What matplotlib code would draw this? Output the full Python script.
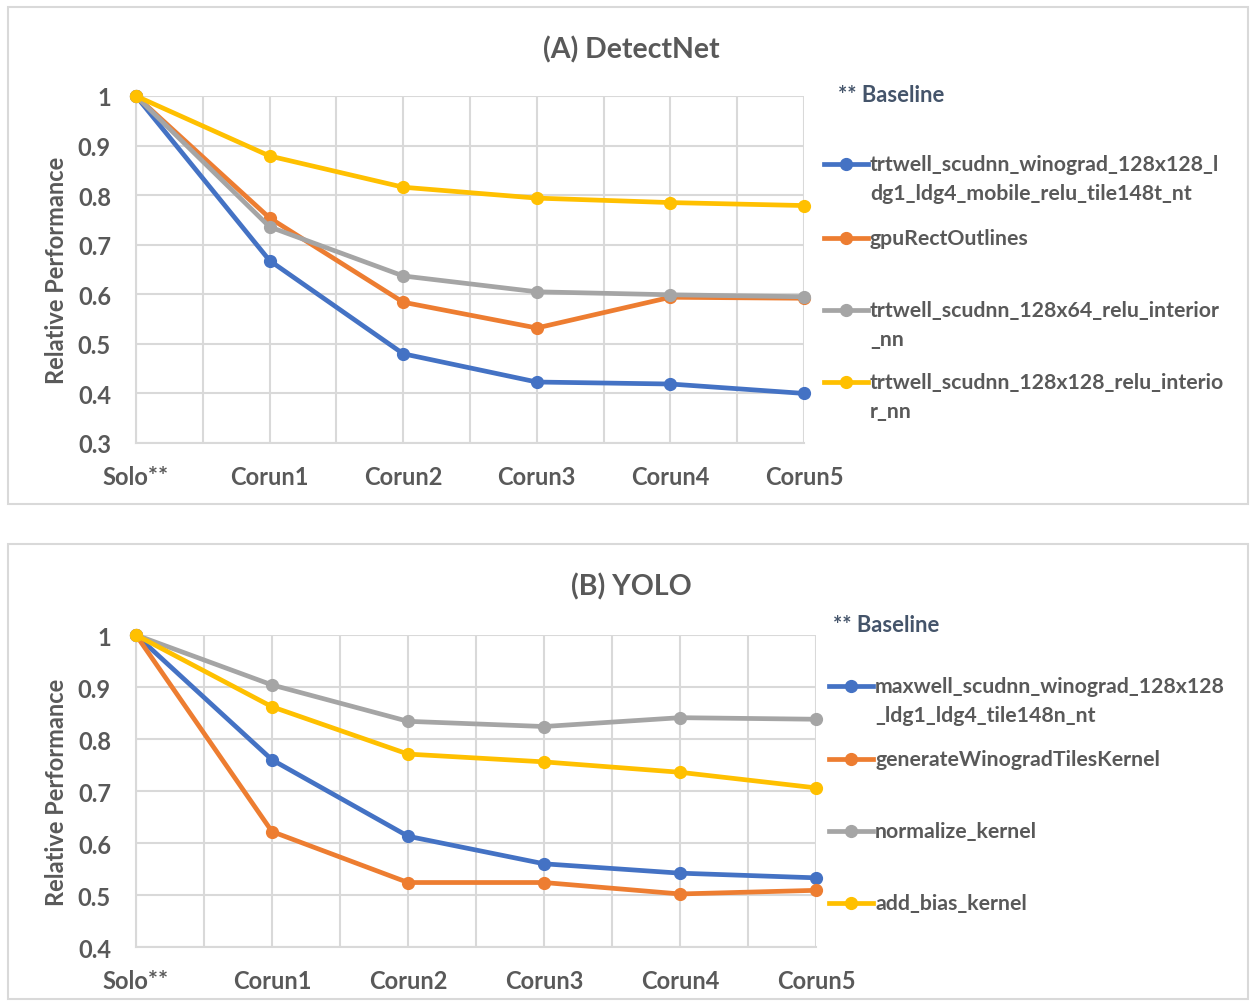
import matplotlib.pyplot as plt
from matplotlib.lines import Line2D
from matplotlib.patches import Rectangle

# -----------------------------
# Data
# -----------------------------
categories = ["Solo**", "Corun1", "Corun2", "Corun3", "Corun4", "Corun5"]

detect_labels = ["trtwell_scudnn_winograd_128x128_l\ndg1_ldg4_mobile_relu_tile148t_nt",
                 "gpuRectOutlines",
                 "trtwell_scudnn_128x64_relu_interior\n_nn",
                 "trtwell_scudnn_128x128_relu_interio\nr_nn"]
detect_blue = [1.0, 0.668, 0.480, 0.423, 0.419, 0.400]
detect_orange = [1.0, 0.754, 0.584, 0.532, 0.594, 0.592]
detect_gray = [1.0, 0.736, 0.637, 0.605, 0.599, 0.595]
detect_yellow = [1.0, 0.879, 0.816, 0.794, 0.785, 0.779]

yolo_labels = ["maxwell_scudnn_winograd_128x128\n_ldg1_ldg4_tile148n_nt",
               "generateWinogradTilesKernel",
               "normalize_kernel",
               "add_bias_kernel"]
yolo_blue = [1.0, 0.760, 0.613, 0.560, 0.542, 0.533]
yolo_orange = [1.0, 0.622, 0.524, 0.524, 0.502, 0.509]
yolo_gray = [1.0, 0.904, 0.834, 0.824, 0.841, 0.838]
yolo_yellow = [1.0, 0.862, 0.771, 0.756, 0.736, 0.706]

colors = ["#4472C4", "#ED7D31", "#A5A5A5", "#FFC000"]
grid_col = "#D9D9D9"
text_col = "#595959"

plt.rcParams["font.family"] = ["Lato", "DejaVu Sans"]

W, H = 1250, 1004
fig = plt.figure(figsize=(W / 100, H / 100), dpi=100)


def fx(x):
    return x / W


def fy(y):
    return 1 - y / H


# -----------------------------
# Panel drawing
# -----------------------------
def panel(box, ax_px, ylim, title, title_y, series, labels, base_xy, leg_x, leg_ys):
    # panel border
    x0, y0, x1, y1 = box
    fig.add_artist(Rectangle((fx(x0), fy(y1)), fx(x1 - x0), (y1 - y0) / H,
                             transform=fig.transFigure, fill=False,
                             edgecolor=grid_col, linewidth=1.5))
    l, t, r, b = ax_px
    ax = fig.add_axes([fx(l), fy(b), fx(r - l), (b - t) / H])
    x = list(range(len(categories)))
    for vals, c in zip(series, colors):
        ax.plot(x, vals, color=c, linewidth=3.4, marker="o", markersize=8.5,
                solid_capstyle="round", clip_on=False, zorder=3)
    ax.set_xlim(0, len(categories) - 1)
    ax.set_ylim(*ylim)
    ax.set_xticks(x)
    ax.set_xticklabels(categories)
    ax.set_xticks([i + 0.5 for i in x[:-1]], minor=True)
    yt = [round(ylim[0] + 0.1 * i, 1) for i in range(int(round((ylim[1] - ylim[0]) / 0.1)) + 1)]
    ax.set_yticks(yt)
    ax.set_yticklabels(["1" if v == 1 else f"{v:.1f}" for v in yt])
    ax.grid(True, which="both", axis="x", color=grid_col, linewidth=1.5)
    ax.grid(True, which="major", axis="y", color=grid_col, linewidth=1.5)
    ax.set_axisbelow(True)
    for s in ["top", "right"]:
        ax.spines[s].set_visible(False)
    for s in ["left", "bottom"]:
        ax.spines[s].set_color(grid_col)
        ax.spines[s].set_linewidth(1.5)
    ax.tick_params(which="both", length=0)
    ax.tick_params(axis="x", pad=16, labelsize=17, labelcolor=text_col)
    ax.tick_params(axis="y", pad=18, labelsize=17, labelcolor=text_col)
    for lab in ax.get_xticklabels() + ax.get_yticklabels():
        lab.set_fontweight("bold")
    ax.set_ylabel("Relative Performance", fontsize=17, fontweight="bold",
                  color=text_col)
    ax.yaxis.set_label_coords(fx(68 - l) / fx(r - l), 0.5)

    fig.text(fx(631), fy(title_y), title, ha="center", va="center",
             fontsize=20.5, fontweight="bold", color=text_col)
    fig.text(fx(base_xy[0]), fy(base_xy[1]), "** Baseline", ha="left",
             va="center", fontsize=15.8, fontweight="bold", color="#44546A")

    # legend
    for lab, c, ly in zip(labels, colors, leg_ys):
        fig.add_artist(Line2D([fx(leg_x), fx(leg_x + 44)], [fy(ly), fy(ly)],
                              transform=fig.transFigure, color=c, linewidth=3.4))
        fig.add_artist(Line2D([fx(leg_x + 22)], [fy(ly)], transform=fig.transFigure,
                              color=c, marker="o", markersize=8.5))
        for i, line in enumerate(lab.split("\n")):
            fig.text(fx(leg_x + 46), fy(ly + i * 29), line, ha="left",
                     va="center", fontsize=15.3, fontweight="bold", color=text_col)
    return ax


panel((8, 8, 1248, 505), (136, 97, 804, 444), (0.3, 1.0), "(A) DetectNet", 50,
      [detect_blue, detect_orange, detect_gray, detect_yellow], detect_labels,
      (838, 95), 824, [165, 239, 311, 383])

panel((8, 545, 1248, 1000), (136, 636, 816, 948), (0.4, 1.0), "(B) YOLO", 587,
      [yolo_blue, yolo_orange, yolo_gray, yolo_yellow], yolo_labels,
      (833, 626), 829, [687, 760, 832, 904])

fig.savefig("out.png", dpi=100, facecolor="white")
